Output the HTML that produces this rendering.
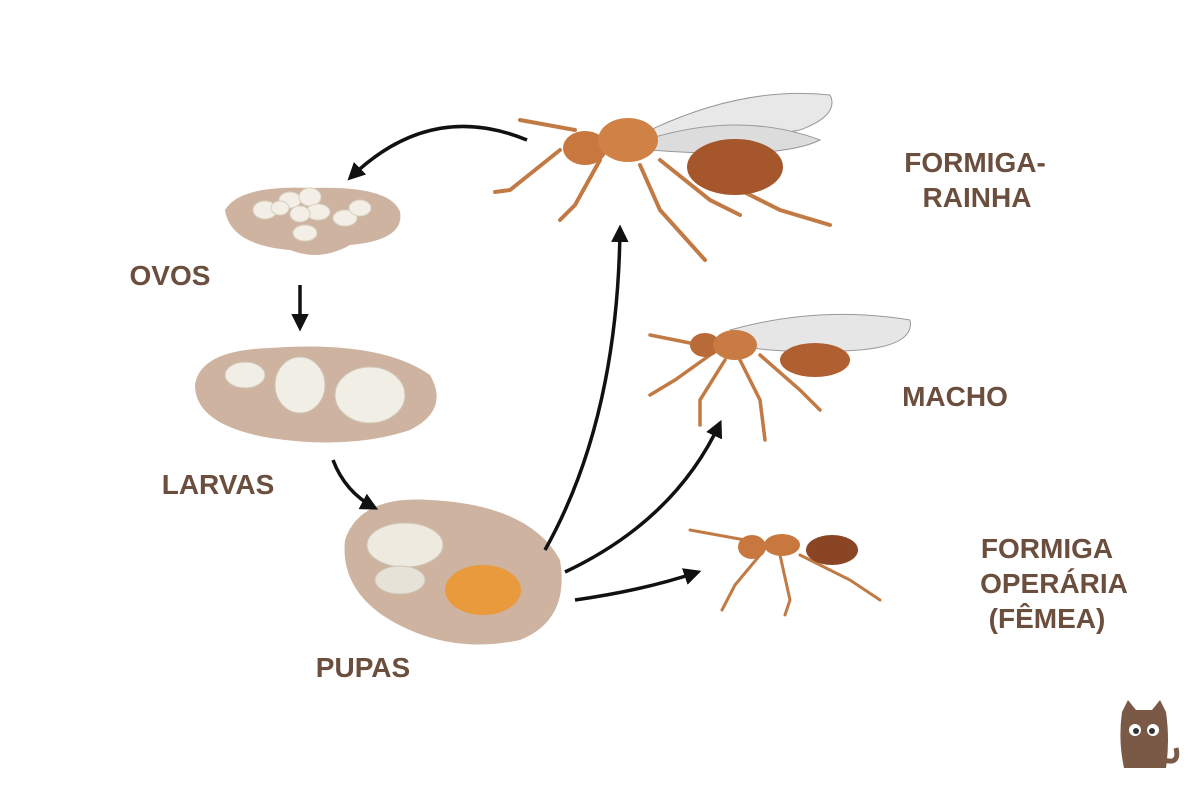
<!DOCTYPE html>
<html><head><meta charset="utf-8"><style>
html,body{margin:0;padding:0;background:#fff;}
svg{display:block;}
text{font-family:"Liberation Sans",sans-serif;font-weight:bold;fill:#6b4e3d;font-size:28px;text-anchor:middle;}
</style></head><body>
<svg width="1200" height="800" viewBox="0 0 1200 800" xmlns="http://www.w3.org/2000/svg">
<defs>
<marker id="ah" viewBox="0 0 10 10" refX="8" refY="5" markerWidth="5" markerHeight="5" orient="auto"><path d="M0,0 L10,5 L0,10 z" fill="#111"/></marker>
</defs>
<rect width="1200" height="800" fill="#fff"/>
<path d="M225,210 Q240,185 310,188 Q390,185 400,212 Q405,240 350,245 Q320,262 290,250 Q230,245 225,210z" fill="#cdb3a0"/>
<g fill="#f3efe6" stroke="#d8d0c0" stroke-width="1">
<ellipse cx="265" cy="210" rx="12" ry="9"/><ellipse cx="290" cy="200" rx="11" ry="8"/><ellipse cx="310" cy="197" rx="11" ry="9"/><ellipse cx="318" cy="212" rx="12" ry="8"/><ellipse cx="300" cy="214" rx="10" ry="8"/><ellipse cx="345" cy="218" rx="12" ry="8"/><ellipse cx="360" cy="208" rx="11" ry="8"/><ellipse cx="305" cy="233" rx="12" ry="8"/><ellipse cx="280" cy="208" rx="9" ry="7"/>
</g>
<path d="M195,385 Q200,350 270,348 Q380,340 430,375 Q450,410 410,430 Q350,450 270,438 Q195,425 195,385z" fill="#cdb3a0"/>
<g fill="#f1eee6" stroke="#cfc6b5">
<ellipse cx="245" cy="375" rx="20" ry="13"/><ellipse cx="300" cy="385" rx="25" ry="28"/><ellipse cx="370" cy="395" rx="35" ry="28"/>
</g>
<path d="M345,540 Q360,495 430,500 Q530,505 560,560 Q570,620 520,640 Q450,655 390,620 Q340,590 345,540z" fill="#cdb3a0"/>
<ellipse cx="405" cy="545" rx="38" ry="22" fill="#eeeae0" stroke="#cfc6b5"/>
<ellipse cx="400" cy="580" rx="25" ry="14" fill="#e6e2d8" stroke="#cfc6b5"/>
<ellipse cx="483" cy="590" rx="38" ry="25" fill="#e99a3c"/>
<g fill="none" stroke="#111" stroke-width="3.5" marker-end="url(#ah)">
<path d="M527,140 Q430,100 350,178"/>
<path d="M300,285 L300,328"/>
<path d="M333,460 Q345,492 375,508"/>
<path d="M545,550 Q618,420 620,228"/>
<path d="M565,572 Q675,520 720,423"/>
<path d="M575,600 Q645,590 698,572"/>
</g>
<g stroke="#c27a45" stroke-width="4" fill="none" stroke-linecap="round">
<path d="M560,150 L510,190 L495,192"/><path d="M575,130 L520,120"/><path d="M600,160 L575,205 L560,220"/><path d="M640,165 L660,210 L705,260"/><path d="M660,160 L710,200 L740,215"/><path d="M690,165 L780,210 L830,225"/>
</g>
<path d="M640,135 Q740,85 830,95 Q840,115 800,130 Q720,145 640,145z" fill="#e8e8e8" stroke="#999"/>
<path d="M645,140 Q740,110 820,140 Q780,160 650,150z" fill="#dcdcdc" stroke="#999"/>
<ellipse cx="585" cy="148" rx="22" ry="17" fill="#c8773f"/>
<ellipse cx="628" cy="140" rx="30" ry="22" fill="#d08246"/>
<ellipse cx="735" cy="167" rx="48" ry="28" fill="#a5562b"/>
<g stroke="#c27a45" stroke-width="3.5" fill="none" stroke-linecap="round">
<path d="M700,345 L650,335"/><path d="M710,355 L675,380 L650,395"/><path d="M740,360 L760,400 L765,440"/><path d="M760,355 L800,390 L820,410"/><path d="M725,360 L700,400 L700,425"/>
</g>
<path d="M730,330 Q820,305 910,320 Q915,345 860,350 Q790,355 730,345z" fill="#e6e6e6" stroke="#999"/>
<ellipse cx="705" cy="345" rx="15" ry="12" fill="#b86a38"/>
<ellipse cx="735" cy="345" rx="22" ry="15" fill="#c87b42"/>
<ellipse cx="815" cy="360" rx="35" ry="17" fill="#b05f30"/>
<g stroke="#c27a45" stroke-width="3" fill="none" stroke-linecap="round">
<path d="M745,540 L690,530"/><path d="M760,555 L735,585 L722,610"/><path d="M780,555 L790,600 L785,615"/><path d="M800,555 L850,580 L880,600"/>
</g>
<ellipse cx="752" cy="547" rx="14" ry="12" fill="#c8773f"/>
<ellipse cx="782" cy="545" rx="18" ry="11" fill="#c8773f"/>
<ellipse cx="832" cy="550" rx="26" ry="15" fill="#8a4525"/>
<text x="170" y="285">OVOS</text>
<text x="218" y="494">LARVAS</text>
<text x="363" y="677">PUPAS</text>
<text x="975" y="172">FORMIGA-</text>
<text x="977" y="207">RAINHA</text>
<text x="955" y="406">MACHO</text>
<text x="1047" y="558">FORMIGA</text>
<text x="1054" y="593">OPERÁRIA</text>
<text x="1047" y="628">(FÊMEA)</text>
<g fill="#7a5a46">
<path d="M1122,712 L1128,700 L1136,710 L1152,710 L1160,700 L1166,712 Q1170,740 1166,768 L1124,768 Q1118,740 1122,712z"/>
<path d="M1164,760 Q1180,765 1176,748" stroke="#7a5a46" stroke-width="5" fill="none"/>
</g>
<circle cx="1135" cy="730" r="6" fill="#fff"/><circle cx="1153" cy="730" r="6" fill="#fff"/>
<circle cx="1136" cy="731" r="3" fill="#333"/><circle cx="1152" cy="731" r="3" fill="#333"/>
</svg>
</body></html>
